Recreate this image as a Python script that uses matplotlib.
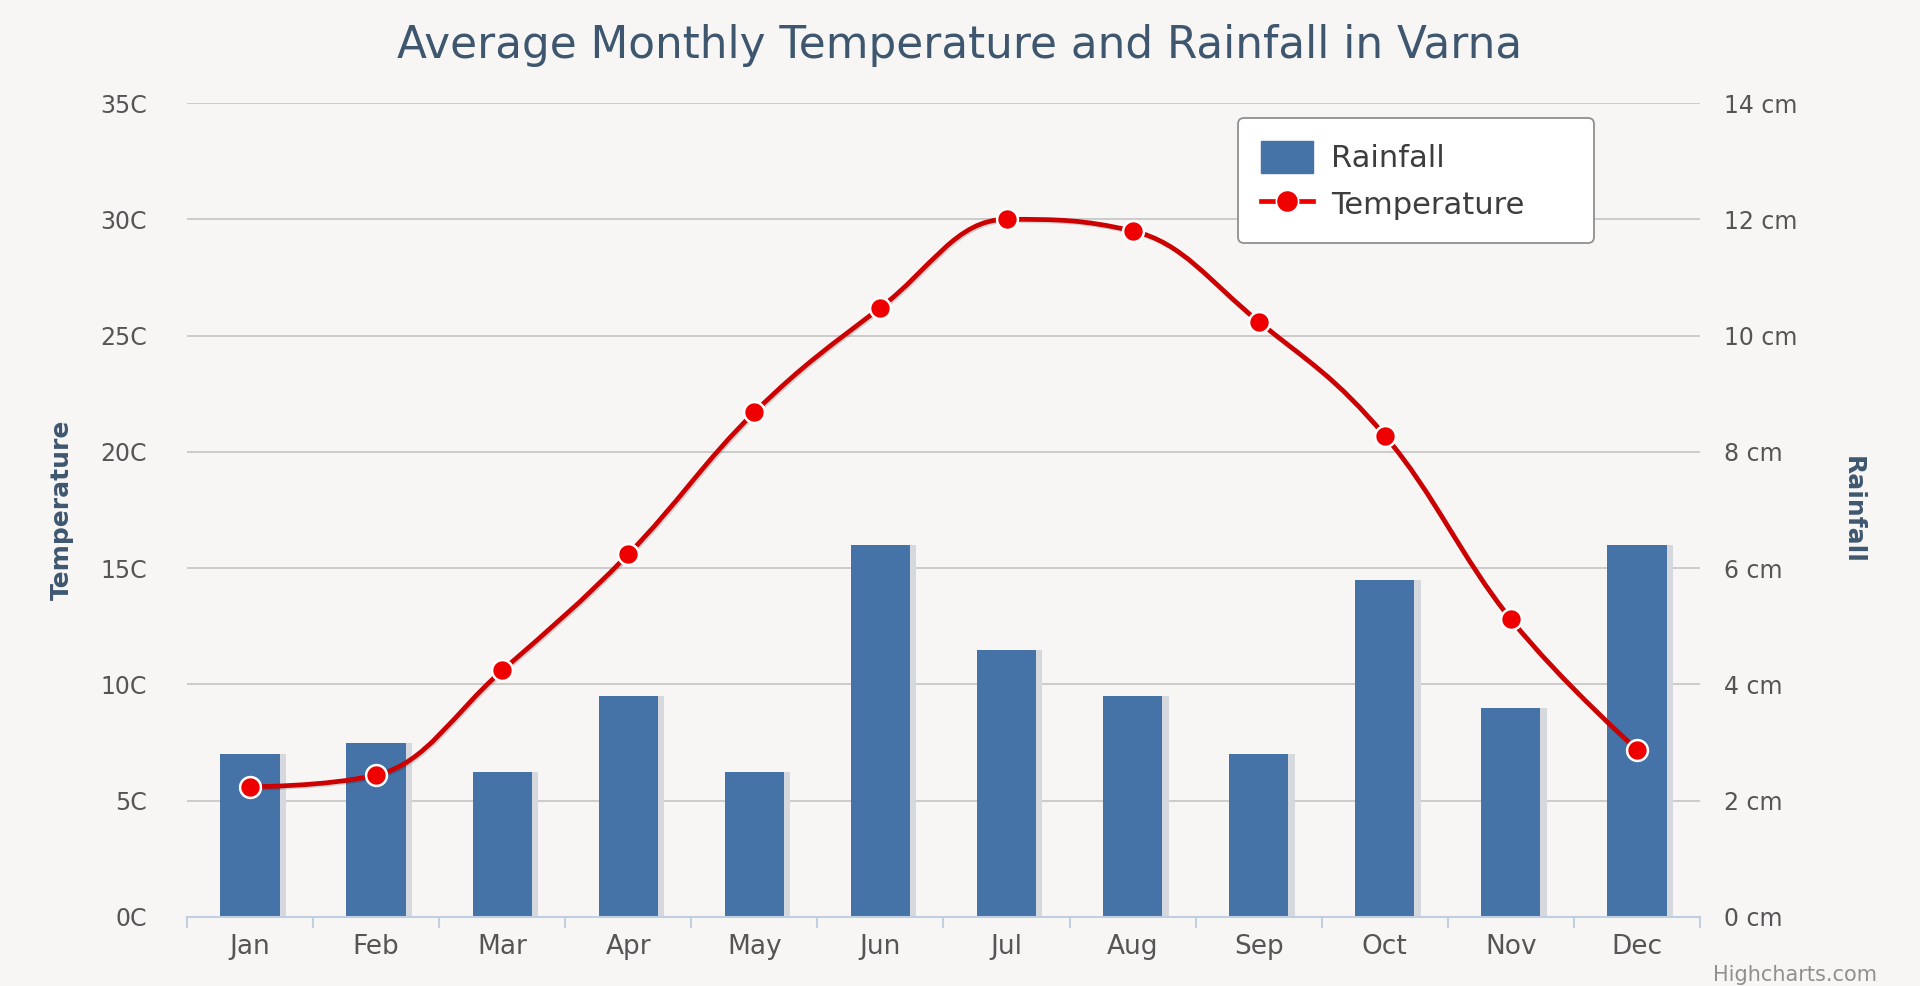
import numpy as np
import matplotlib.pyplot as plt
from matplotlib.path import Path
from matplotlib.patches import PathPatch
from matplotlib.lines import Line2D
from matplotlib.patches import Patch
import matplotlib.patheffects as pe

months = ['Jan', 'Feb', 'Mar', 'Apr', 'May', 'Jun',
          'Jul', 'Aug', 'Sep', 'Oct', 'Nov', 'Dec']
temperature = [5.6, 6.1, 10.6, 15.6, 21.7, 26.2, 30.0, 29.5, 25.6, 20.7, 12.8, 7.2]
rainfall = [2.8, 3.0, 2.5, 3.8, 2.5, 6.4, 4.6, 3.8, 2.8, 5.8, 3.6, 6.4]
temp_ticks = [0, 5, 10, 15, 20, 25, 30, 35]
rain_ticks = [0, 2, 4, 6, 8, 10, 12, 14]

BG = '#f7f6f5'
BAR = '#4572a7'
LINE = '#cc0000'
LABEL = '#555555'
TITLE = '#3e576f'


def spline_path(xs, ys, smoothing=1.5):
    # highcharts style bezier control points
    verts = [(xs[0], ys[0])]
    codes = [Path.MOVETO]
    n = len(xs)
    right = [None] * n
    left = [None] * n
    denom = smoothing + 1
    for i in range(n):
        x, y = xs[i], ys[i]
        if i == 0 or i == n - 1:
            left[i] = (x, y)
            right[i] = (x, y)
            continue
        lx, ly = xs[i - 1], ys[i - 1]
        nx, ny = xs[i + 1], ys[i + 1]
        lcx = (smoothing * x + lx) / denom
        lcy = (smoothing * y + ly) / denom
        rcx = (smoothing * x + nx) / denom
        rcy = (smoothing * y + ny) / denom
        corr = (rcy - lcy) * (rcx - x) / (rcx - lcx) + y - rcy
        lcy += corr
        rcy += corr
        if lcy > ly and lcy > y:
            lcy = max(ly, y)
            rcy = 2 * y - lcy
        elif lcy < ly and lcy < y:
            lcy = min(ly, y)
            rcy = 2 * y - lcy
        if rcy > ny and rcy > y:
            rcy = max(ny, y)
            lcy = 2 * y - rcy
        elif rcy < ny and rcy < y:
            rcy = min(ny, y)
            lcy = 2 * y - rcy
        left[i] = (lcx, lcy)
        right[i] = (rcx, rcy)
    for i in range(1, n):
        verts += [right[i - 1], left[i], (xs[i], ys[i])]
        codes += [Path.CURVE4] * 3
    return Path(verts, codes)


fig = plt.figure(figsize=(19.2, 9.86), dpi=100, facecolor=BG)
ax = fig.add_axes([0.0974, 0.07, 0.7880, 0.8255])
ax.set_facecolor(BG)
ax2 = ax.twinx()

x = np.arange(len(months))

# bars on the rainfall axis (with a soft shadow)
ax2.bar(x + 0.05, rainfall, width=0.47, bottom=0, color='#d5d9de', zorder=1)
ax2.bar(x, rainfall, width=0.47, color=BAR, zorder=2)
ax2.set_ylim(0, 14)
ax2.set_yticks(rain_ticks)
ax2.set_yticklabels([f'{t} cm' for t in rain_ticks])

# temperature line on top
ax.set_zorder(ax2.get_zorder() + 1)
ax.patch.set_visible(False)
ax2.patch.set_visible(True)
ax2.patch.set_facecolor(BG)

path = spline_path(list(x), temperature)
ax.add_patch(PathPatch(path, fill=False, edgecolor=LINE, lw=3.4, zorder=3,
                       path_effects=[pe.SimpleLineShadow(offset=(1, -1), shadow_color='#000000', alpha=0.15),
                                     pe.Normal()]))
ax.plot(x, temperature, 'o', color='#ee0000', ms=15, mec='white', mew=1.8, zorder=4)

ax.set_ylim(0, 35)
ax.set_xlim(-0.5, 11.5)
ax.set_yticks(temp_ticks)
ax.set_yticklabels([f'{t}C' for t in temp_ticks])
ax.set_xticks(x)
ax.set_xticklabels(months)

# grid
for t in temp_ticks[1:]:
    ax2.axhline(t * 14 / 35, color='#c8c8c8', lw=1.3, zorder=0)

for a in (ax, ax2):
    for s in a.spines.values():
        s.set_visible(False)
ax2.spines['bottom'].set_visible(True)
ax2.spines['bottom'].set_color('#c0d0e0')
ax2.spines['bottom'].set_linewidth(1.5)

ax.tick_params(axis='y', length=0, pad=29, labelsize=17, labelcolor=LABEL)
ax2.tick_params(axis='y', length=0, pad=17, labelsize=17, labelcolor=LABEL)
ax.tick_params(axis='x', length=0, pad=12, labelsize=19, labelcolor=LABEL)
ax2.tick_params(axis='x', length=0)

# category boundary tick marks
for b in np.arange(-0.5, 12, 1.0):
    ax.plot([b, b], [0, -0.45], color='#c0d0e0', lw=1.5, clip_on=False, zorder=1)

ax.set_ylabel('Temperature', fontsize=18, fontweight='bold', color=TITLE, labelpad=19)
ax2.set_ylabel('Rainfall', fontsize=18, fontweight='bold', color=TITLE, rotation=270, labelpad=49)

fig.text(0.5, 0.954, 'Average Monthly Temperature and Rainfall in Varna',
         ha='center', va='center', fontsize=31.5, color=TITLE)

handles = [Patch(facecolor=BAR, edgecolor=BAR),
           Line2D([0], [0], color='#ee0000', lw=3.4, marker='o', ms=16, mec='white', mew=1.2)]
leg_h = 0.105
leg = fig.legend(handles, ['Rainfall', 'Temperature'], loc='upper left', mode='expand',
                 bbox_to_anchor=(0.6448, 0.880 - leg_h, 0.1856, leg_h), borderaxespad=0,
                 fontsize=22, frameon=True, fancybox=True, labelcolor='#3d3d3d',
                 handlelength=1.7, handleheight=1.2,
                 borderpad=0.75, labelspacing=0.5, handletextpad=0.6)
leg.get_frame().set_edgecolor('#909090')
leg.get_frame().set_linewidth(1.3)
leg.get_frame().set_facecolor('white')
leg.get_frame().set_alpha(1)

fig.text(0.935, 0.001, 'Highcharts.com', ha='center', va='bottom', fontsize=15, color='#909090')

fig.savefig('out.png', dpi=100, facecolor=BG)
